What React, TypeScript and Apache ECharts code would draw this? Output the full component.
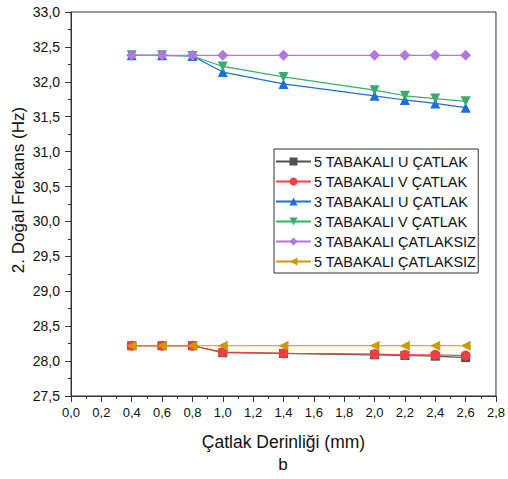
import React, { useEffect, useRef } from "react";
import * as echarts from "echarts";

// Crack depth (mm) for every measured configuration
const depths = [0.4, 0.6, 0.8, 1.0, 1.4, 2.0, 2.2, 2.4, 2.6];

// Second natural frequency (Hz)
const fiveLayerU = [28.22, 28.22, 28.22, 28.12, 28.11, 28.09, 28.08, 28.07, 28.05];
const fiveLayerV = [28.22, 28.22, 28.22, 28.13, 28.11, 28.1, 28.09, 28.09, 28.08];
const threeLayerU = [32.38, 32.38, 32.37, 32.14, 31.97, 31.8, 31.74, 31.69, 31.63];
const threeLayerV = [32.38, 32.38, 32.37, 32.22, 32.07, 31.88, 31.8, 31.76, 31.72];
const threeLayerIntact = [32.38, 32.38, 32.38, 32.38, 32.38, 32.38, 32.38, 32.38, 32.38];
const fiveLayerIntact = [28.22, 28.22, 28.22, 28.22, 28.22, 28.22, 28.22, 28.22, 28.22];

const seriesNames = [
  "5 TABAKALI U ÇATLAK",
  "5 TABAKALI V ÇATLAK",
  "3 TABAKALI U ÇATLAK",
  "3 TABAKALI V ÇATLAK",
  "3 TABAKALI ÇATLAKSIZ",
  "5 TABAKALI ÇATLAKSIZ",
];
const seriesValues = [fiveLayerU, fiveLayerV, threeLayerU, threeLayerV, threeLayerIntact, fiveLayerIntact];
const seriesColors = ["#515151", "#F14040", "#1A6FDF", "#37AD6B", "#B177DE", "#CC9900"];
const seriesSymbols = [
  "rect",
  "circle",
  "triangle",
  "path://M0,0 L10,0 L5,9 Z",
  "diamond",
  "path://M0,5 L9,0 L9,10 Z",
];
const seriesSymbolSizes = [9, 10, 10, 10, 11, 10];

const yTitle = "2. Doğal Frekans (Hz)";
const xTitle = "Çatlak Derinliği (mm)";
const panelLabel = "b";

const FONT = "'Liberation Sans', Arial, sans-serif";
const comma = (v: number) => v.toFixed(1).replace(".", ",");

export default function App() {
  const ref = useRef<HTMLDivElement>(null);

  useEffect(() => {
    if (!ref.current) return;
    const chart = echarts.init(ref.current, undefined, { renderer: "svg" });
    const axisColor = "#333";

    chart.setOption({
      animation: false,
      backgroundColor: "#fff",
      textStyle: { fontFamily: FONT },
      grid: {
        left: 71,
        right: 11,
        top: 12,
        bottom: 83,
        show: true,
        borderColor: axisColor,
        borderWidth: 1,
        backgroundColor: "transparent",
      },
      legend: {
        left: 274,
        top: 149,
        orient: "vertical",
        padding: [5, 2, 4, 1],
        itemWidth: 35,
        itemHeight: 10,
        itemGap: 5,
        borderColor: axisColor,
        borderWidth: 1,
        backgroundColor: "#fff",
        textStyle: { fontFamily: FONT, fontSize: 14.5, color: "#111", padding: [0, 0, 0, -2] },
        data: seriesNames,
      },
      xAxis: {
        type: "value",
        min: 0,
        max: 2.8,
        interval: 0.2,
        name: xTitle,
        nameLocation: "middle",
        nameGap: 37,
        nameTextStyle: { fontFamily: FONT, fontSize: 17.5, color: "#111" },
        axisLine: { show: true, lineStyle: { color: axisColor, width: 1 } },
        axisTick: { show: true, inside: false, length: 6, lineStyle: { color: axisColor } },
        minorTick: { show: true, splitNumber: 2, length: 3, lineStyle: { color: axisColor } },
        splitLine: { show: false },
        axisLabel: { formatter: comma, fontFamily: FONT, fontSize: 13, color: "#111", margin: 10 },
      },
      yAxis: {
        type: "value",
        min: 27.5,
        max: 33,
        interval: 0.5,
        axisLine: { show: true, lineStyle: { color: axisColor, width: 1 } },
        axisTick: { show: true, inside: false, length: 6, lineStyle: { color: axisColor } },
        minorTick: { show: true, splitNumber: 2, length: 3, lineStyle: { color: axisColor } },
        splitLine: { show: false },
        axisLabel: { formatter: comma, fontFamily: FONT, fontSize: 14, color: "#111", margin: 11 },
      },
      graphic: [
        {
          type: "text",
          x: 18,
          y: 190,
          rotation: Math.PI / 2,
          style: {
            text: yTitle,
            font: `17px ${FONT}`,
            fill: "#111",
            align: "center",
            verticalAlign: "middle",
          },
        },
        {
          type: "text",
          x: 283,
          y: 464,
          style: {
            text: panelLabel,
            font: `17px ${FONT}`,
            fill: "#111",
            align: "center",
            verticalAlign: "middle",
          },
        },
      ],
      series: seriesNames.map((name, i) => ({
        name,
        type: "line",
        data: depths.map((d, j) => [d, seriesValues[i][j]]),
        symbol: seriesSymbols[i],
        symbolSize: seriesSymbolSizes[i],
        showAllSymbol: true,
        color: seriesColors[i],
        lineStyle: { color: seriesColors[i], width: 1.2 },
        itemStyle: { color: seriesColors[i] },
        z: 2 + i,
      })),
    });

    return () => chart.dispose();
  }, []);

  return (
    <div
      ref={ref}
      style={{ position: "fixed", left: 0, top: 0, width: 508, height: 479 }}
    />
  );
}
